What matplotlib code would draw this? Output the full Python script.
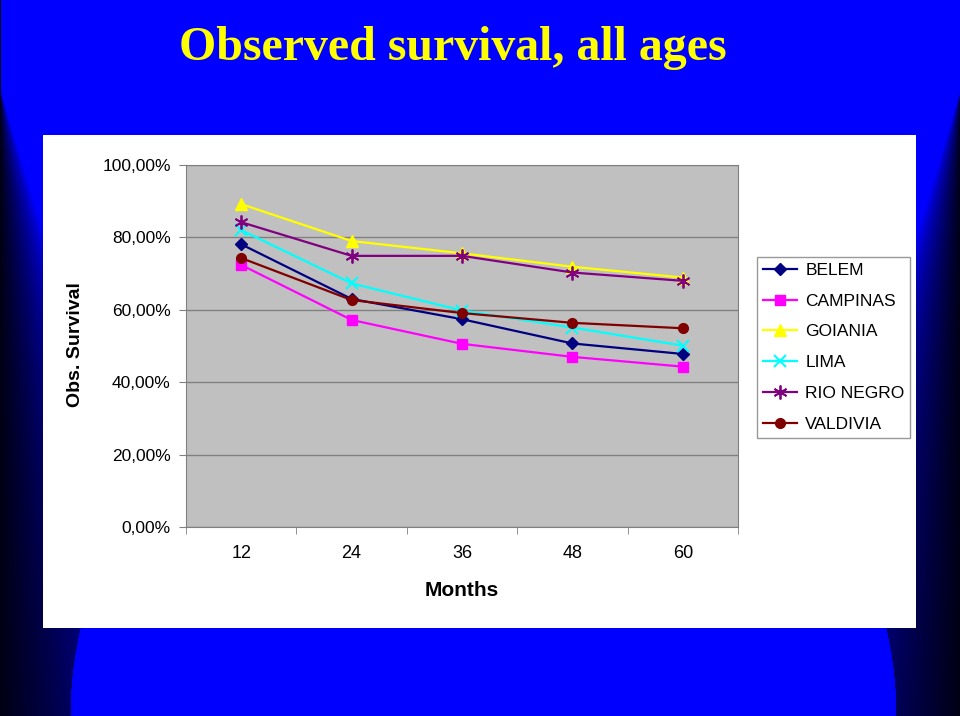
import numpy as np
import matplotlib.pyplot as plt
from matplotlib.patches import Rectangle

# survival data (fractions)
months = ['12', '24', '36', '48', '60']
belem = [0.781, 0.630, 0.574, 0.507, 0.478]
campinas = [0.724, 0.572, 0.506, 0.470, 0.443]
goiania = [0.892, 0.790, 0.756, 0.719, 0.689]
lima = [0.820, 0.673, 0.598, 0.551, 0.501]
rio_negro = [0.842, 0.749, 0.749, 0.703, 0.680]
valdivia = [0.743, 0.627, 0.591, 0.564, 0.549]

W, H = 960, 716
fig = plt.figure(figsize=(W / 100, H / 100), dpi=100)

# slide background: blue with dark edges and a bright arch at the bottom
yy, xx = np.mgrid[0:H, 0:W].astype(float)
d = np.minimum(xx, W - xx)
w = np.clip((yy - 90) * 0.3, 1, 200)
dark = np.clip(1 - d / w, 0, 1) ** 0.8
arch = (((xx - 483) / 413) ** 2 + ((yy - 716) / 400) ** 2 < 1) & (yy > 440)
dark[arch] = 0
img = np.zeros((H, W, 3))
img[..., 2] = 1.0 * (1 - dark) + 0.08 * dark
bg = fig.add_axes([0, 0, 1, 1], zorder=-10)
bg.imshow(img, aspect='auto', extent=(0, W, H, 0))
bg.set_xlim(0, W)
bg.set_ylim(H, 0)
bg.axis('off')

# white chart panel
fig.patches.append(Rectangle((43 / W, (H - 628) / H), 873 / W, 493 / H,
                             transform=fig.transFigure, facecolor='white',
                             edgecolor='none', zorder=-5))

fig.text(453 / W, 1 - 48 / H, 'Observed survival, all ages', color='#ffff00',
         fontsize=34.5, fontweight='bold', family='Liberation Serif',
         ha='center', va='center')

ax = fig.add_axes([186 / W, (H - 527) / H, 552 / W, 362 / H])
ax.set_facecolor('#c0c0c0')
x = np.arange(len(months))

series = [
    ('BELEM', belem, '#000080', dict(marker='D', ms=6)),
    ('CAMPINAS', campinas, '#ff00ff', dict(marker='s', ms=7)),
    ('GOIANIA', goiania, '#ffff00', dict(marker='^', ms=8)),
    ('LIMA', lima, '#00ffff', dict(marker='x', ms=8, mew=1.5)),
    ('RIO NEGRO', rio_negro, '#800080', dict(marker=(6, 2, 0), ms=10, mew=1.3)),
    ('VALDIVIA', valdivia, '#800000', dict(marker='o', ms=7)),
]
for name, vals, col, mk in series:
    ax.plot(x, vals, color=col, lw=1.6, label=name, **mk)

ax.set_xlim(-0.5, 4.5)
ax.set_ylim(0, 1)
yt = np.arange(0, 1.01, 0.2)
ax.set_yticks(yt)
ax.set_yticklabels([('%.2f%%' % (v * 100)).replace('.', ',') for v in yt])
ax.yaxis.grid(True, color='#808080', lw=1)
ax.set_axisbelow(True)
ax.set_xticks(x)
ax.set_xticklabels(months)
ax.set_xticks(np.arange(-0.5, 5, 1), minor=True)
ax.tick_params(axis='x', which='major', length=0, pad=13, labelsize=13)
ax.tick_params(axis='x', which='minor', length=5, color='#808080')
ax.tick_params(axis='y', length=5, color='#808080', labelsize=12.5, pad=6)
for t in ax.get_xticklabels() + ax.get_yticklabels():
    t.set_family('Liberation Sans')
for s in ax.spines.values():
    s.set_color('#808080')

fig.text(75 / W, 1 - 345 / H, 'Obs. Survival', rotation=90, fontsize=14,
         fontweight='bold', family='Liberation Sans', ha='center', va='center')
fig.text(462 / W, 1 - 591 / H, 'Months', fontsize=15, fontweight='bold',
         family='Liberation Sans', ha='center', va='center')

leg = ax.legend(loc='upper left', bbox_to_anchor=(757 / W, 1 - 257 / H),
                bbox_transform=fig.transFigure, frameon=True, fancybox=False,
                prop={'family': 'Liberation Sans', 'size': 12.5},
                handlelength=2.0, handletextpad=0.45, labelspacing=0.9,
                borderpad=0.33, borderaxespad=0)
leg.get_frame().set_edgecolor('#808080')
leg.get_frame().set_linewidth(1)

plt.savefig('out.png', dpi=100)
